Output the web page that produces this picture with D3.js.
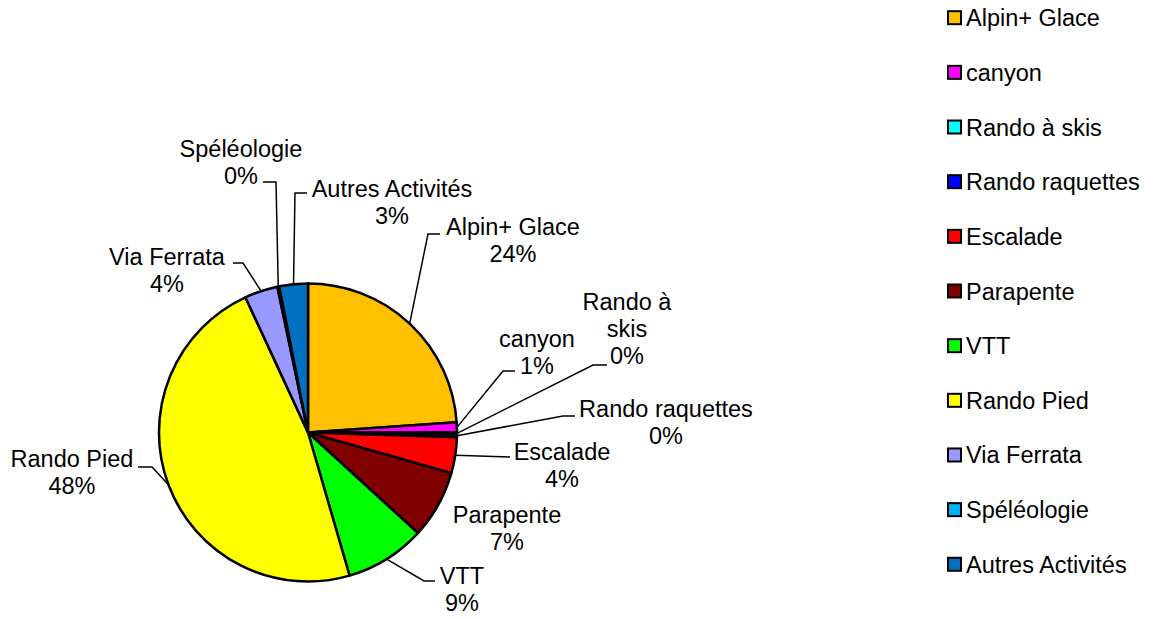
<!DOCTYPE html>
<html>
<head>
<meta charset="utf-8">
<script src="https://cdn.jsdelivr.net/npm/d3@7"></script>
<style>
  body { margin: 0; background: #fff; }
  text { font-family: "Liberation Sans", Arial, sans-serif; fill: #000; }
</style>
</head>
<body>
<svg id="chart"></svg>
<script>
const categories = ["Alpin+ Glace", "canyon", "Rando à skis", "Rando raquettes", "Escalade",
  "Parapente", "VTT", "Rando Pied", "Via Ferrata", "Spéléologie", "Autres Activités"];
const values = [23.9, 1.1, 0.2, 0.3, 3.9, 7.4, 8.7, 47.6, 3.6, 0.2, 3.1];
const colors = ["#FFC000", "#FF00FF", "#00FFFF", "#0000FF", "#FF0000",
  "#800000", "#00FF00", "#FFFF00", "#9999FF", "#00B0F0", "#0070C0"];

// hand placed data labels (centre x, first baseline) and leader elbows, like in the sheet
const labelLayout = [
  {x: 513, y: 235, leader: [[440, 234], [428, 234]]},
  {x: 537, y: 347, leader: [[515, 371], [503, 371]]},
  {x: 627, y: 310, leader: [[607, 365], [593, 365]], wrap: ["Rando à", "skis"]},
  {x: 666, y: 417, leader: [[575, 416], [563, 416]]},
  {x: 562, y: 460, leader: [[510, 457]]},
  {x: 507, y: 523, leader: null},
  {x: 462, y: 584, leader: [[435, 581], [424, 581]]},
  {x: 72, y: 467, leader: [[138, 467], [152, 467]]},
  {x: 167, y: 265, leader: [[233, 263], [243, 263]]},
  {x: 241, y: 157, leader: [[263, 182], [276, 182]]},
  {x: 392, y: 197, leader: [[307, 193], [295, 193]]}
];

const width = 1153, height = 619;
const cx = 308, cy = 432.5, radius = 149;
const fontSize = 23.5, lineGap = 27;

const svg = d3.select("#chart").attr("width", width).attr("height", height);

const total = d3.sum(values);
const data = categories.map((c, i) => ({name: c, value: values[i], color: colors[i], layout: labelLayout[i]}));

const pie = d3.pie().sort(null).value(d => d.value);
const arc = d3.arc().innerRadius(0).outerRadius(radius);
const arcs = pie(data);

const g = svg.append("g").attr("transform", `translate(${cx},${cy})`);

g.selectAll("path.slice")
  .data(arcs)
  .join("path")
  .attr("class", "slice")
  .attr("d", arc)
  .attr("fill", d => d.data.color)
  .attr("stroke", "#000")
  .attr("stroke-width", 2.5)
  .attr("stroke-linejoin", "round");

// leader lines end on the outer edge of each slice, at its middle angle
const edgePoint = d => {
  const a = (d.startAngle + d.endAngle) / 2;
  return [cx + radius * Math.sin(a), cy - radius * Math.cos(a)];
};

svg.append("g").selectAll("polyline")
  .data(arcs.filter(d => d.data.layout.leader))
  .join("polyline")
  .attr("points", d => d.data.layout.leader.concat([edgePoint(d)]).map(p => p.join(",")).join(" "))
  .attr("fill", "none")
  .attr("stroke", "#000")
  .attr("stroke-width", 1.5);

const labels = svg.append("g").selectAll("text.lbl")
  .data(arcs)
  .join("text")
  .attr("class", "lbl")
  .attr("text-anchor", "middle")
  .attr("font-size", fontSize)
  .attr("x", d => d.data.layout.x)
  .attr("y", d => d.data.layout.y);

labels.each(function(d) {
  const lines = (d.data.layout.wrap || [d.data.name]).concat([Math.round(d.data.value / total * 100) + "%"]);
  d3.select(this).selectAll("tspan")
    .data(lines)
    .join("tspan")
    .attr("x", d.data.layout.x)
    .attr("dy", (l, i) => i === 0 ? 0 : lineGap)
    .text(l => l);
});

// legend
const legendY = d3.scalePoint().domain(categories).range([17.7, 564.3]);
const legend = svg.append("g").attr("class", "legend");
const items = legend.selectAll("g")
  .data(data)
  .join("g")
  .attr("transform", d => `translate(948,${legendY(d.name)})`);

items.append("rect")
  .attr("x", 0).attr("y", -6.5)
  .attr("width", 13).attr("height", 13)
  .attr("fill", d => d.color)
  .attr("stroke", "#000")
  .attr("stroke-width", 2);

items.append("text")
  .attr("x", 18)
  .attr("y", 8.5)
  .attr("font-size", fontSize)
  .text(d => d.name);
</script>
</body>
</html>
